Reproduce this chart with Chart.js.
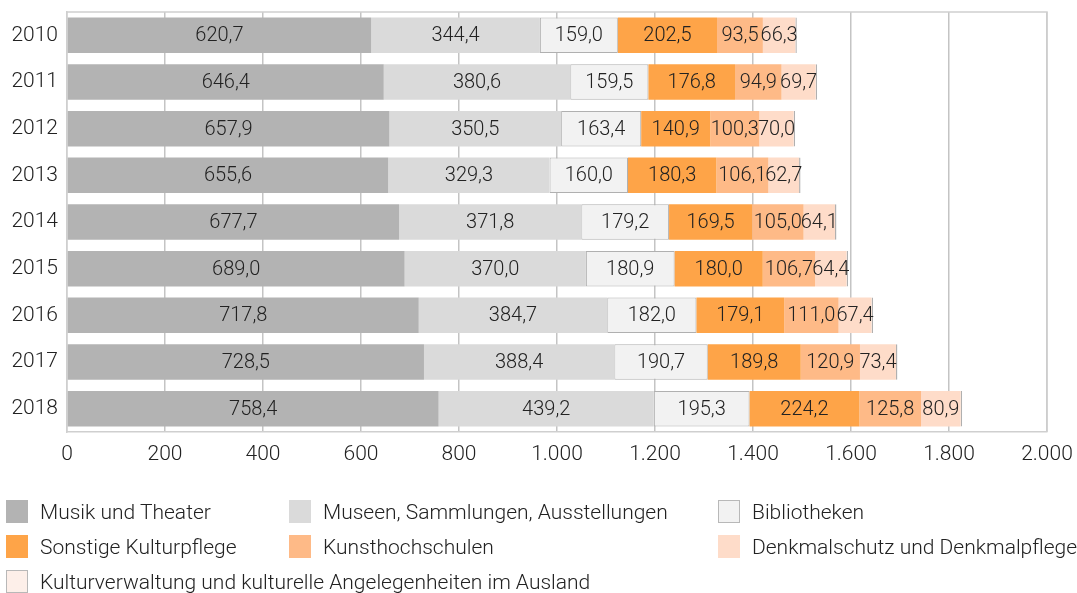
<!DOCTYPE html>
<html><head><meta charset="utf-8">
<script src="https://cdn.jsdelivr.net/npm/chart.js@4/dist/chart.umd.min.js"></script>
<style>
html,body{margin:0;padding:0;background:#fff;}
#wrap{position:relative;width:1077px;height:593px;overflow:hidden;}
#c{position:absolute;left:0;top:0;}
.lg{position:absolute;font-family:Roboto,'Liberation Sans',sans-serif;font-weight:300;font-size:21px;color:#222;line-height:23px;white-space:nowrap;}
.lg span.box{position:absolute;left:0;top:0;width:22px;height:23px;box-sizing:border-box;}
.lg span.t{position:absolute;top:1px;}
</style></head>
<body><div id="wrap"><canvas id="c" width="1077" height="593"></canvas><div id="legend"></div></div>
<script>
const years = ['2010','2011','2012','2013','2014','2015','2016','2017','2018'];
const musik = [620.7,646.4,657.9,655.6,677.7,689.0,717.8,728.5,758.4];
const museen = [344.4,380.6,350.5,329.3,371.8,370.0,384.7,388.4,439.2];
const bibliotheken = [159.0,159.5,163.4,160.0,179.2,180.9,182.0,190.7,195.3];
const sonstige = [202.5,176.8,140.9,180.3,169.5,180.0,179.1,189.8,224.2];
const kunsthochschulen = [93.5,94.9,100.3,106.1,105.0,106.7,111.0,120.9,125.8];
const denkmal = [66.3,69.7,70.0,62.7,64.1,64.4,67.4,73.4,80.9];
const kulturverwaltung = [3.0,3.0,3.0,3.0,3.0,3.0,3.0,3.0,3.0];
const seriesNames = ['Musik und Theater','Museen, Sammlungen, Ausstellungen','Bibliotheken','Sonstige Kulturpflege','Kunsthochschulen','Denkmalschutz und Denkmalpflege','Kulturverwaltung und kulturelle Angelegenheiten im Ausland'];
const xTicks = [0,200,400,600,800,1000,1200,1400,1600,1800,2000];

const colors = ['#b3b3b3','#dadada','#f2f2f2','#fea448','#feba87','#fedcc9','#fdefe9'];
const borders = [null,null,'#b0b0b0',null,null,null,'#b0b0b0'];
const allData = [musik,museen,bibliotheken,sonstige,kunsthochschulen,denkmal,kulturverwaltung];

const FONT = "Roboto, 'Liberation Sans', sans-serif";

function deNum(v, dec){
  let s = v.toFixed(dec);
  let parts = s.split('.');
  parts[0] = parts[0].replace(/\B(?=(\d{3})+(?!\d))/g,'.');
  return parts.length>1 ? parts[0]+','+parts[1] : parts[0];
}

const datasets = allData.map((d,i)=>({
  label: seriesNames[i],
  data: d,
  backgroundColor: colors[i],
  borderColor: borders[i] || colors[i],
  borderWidth: borders[i] ? 1 : 0,
  borderSkipped: false,
  barPercentage: 0.76,
  categoryPercentage: 1.0
}));

const labelPlugin = {
  id:'vlabels',
  afterDatasetsDraw(chart){
    const ctx = chart.ctx;
    ctx.save();
    ctx.font = "300 20px " + FONT;
    ctx.fillStyle = '#222';
    ctx.textAlign = 'center';
    ctx.textBaseline = 'middle';
    chart.data.datasets.forEach((ds,di)=>{
      if(di===6) return;
      const meta = chart.getDatasetMeta(di);
      meta.data.forEach((el,j)=>{
        const cx = (el.x + el.base)/2;
        ctx.fillText(deNum(ds.data[j],1), cx, el.y+1);
      });
    });
    ctx.restore();
  }
};
const framePlugin = {
  id:'frame',
  afterDraw(chart){
    const a = chart.chartArea, ctx = chart.ctx;
    ctx.save();
    ctx.strokeStyle = '#cfcfcf';
    ctx.lineWidth = 1.5;
    ctx.beginPath();
    ctx.moveTo(a.left, a.top); ctx.lineTo(a.right, a.top); ctx.lineTo(a.right, a.bottom);
    ctx.stroke();
    ctx.restore();
  }
};

new Chart(document.getElementById('c'), {
  type:'bar',
  data:{labels:years, datasets},
  options:{
    indexAxis:'y',
    responsive:false,
    animation:false,
    layout:{padding:{top:12,right:30,bottom:121,left:0}},
    plugins:{legend:{display:false},tooltip:{enabled:false}},
    scales:{
      x:{
        stacked:true, min:0, max:2000,
        afterBuildTicks(scale){ scale.ticks = xTicks.map(v=>({value:v})); },
        afterFit(scale){ scale.height = 40; scale.paddingLeft = 0; scale.paddingRight = 0; },
        grid:{color:'#c4c4c4', lineWidth:1.5, drawTicks:false},
        border:{color:'#cfcfcf', width:1.5},
        ticks:{padding:10, color:'#222', font:{family:FONT, size:21, weight:300}, callback:(v)=>deNum(v,0), maxRotation:0, autoSkip:false}
      },
      y:{
        stacked:true,
        afterFit(scale){ scale.width = 67; scale.paddingTop = 0; scale.paddingBottom = 0; },
        grid:{display:false, drawTicks:false},
        border:{color:'#cfcfcf', width:1.5},
        ticks:{padding:9, color:'#222', font:{family:FONT, size:21, weight:300}}
      }
    }
  },
  plugins:[labelPlugin, framePlugin]
});

// legend (HTML)
const legPos = [[6,500],[289,500],[718,500],[6,535],[289,535],[718,535],[6,570]];
const lg = document.getElementById('legend');
seriesNames.forEach((n,i)=>{
  const d = document.createElement('div');
  d.className='lg';
  d.style.left = legPos[i][0]+'px';
  d.style.top = legPos[i][1]+'px';
  const b = document.createElement('span');
  b.className='box';
  b.style.background = colors[i];
  if(borders[i]) b.style.border = '1px solid #b8b8b8';
  const t = document.createElement('span');
  t.className='t';
  t.style.left = '34px';
  t.textContent = n;
  d.appendChild(b); d.appendChild(t);
  lg.appendChild(d);
});
</script>
</body></html>
